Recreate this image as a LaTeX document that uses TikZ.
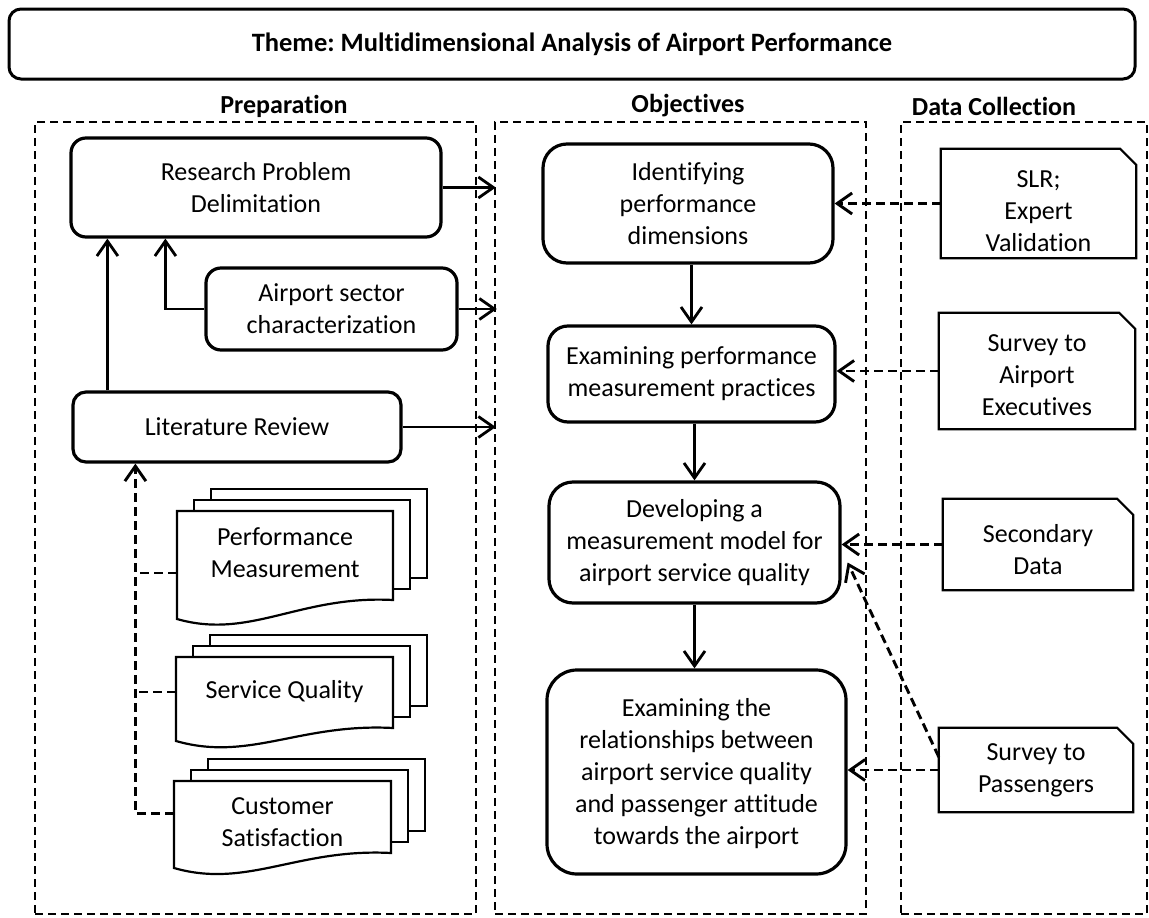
\documentclass[tikz,border=0pt]{standalone}
\usepackage{fontspec}
\setmainfont{Carlito}[Ligatures=NoCommon]
\usetikzlibrary{arrows.meta,calc}
\frenchspacing

% stack of three documents with a wavy front sheet
% #1 name, #2 left, #3 top, #4 right, #5 bottom at right, #6 bottom at left, #7 text, #8 text centre
\newcommand\docstack[8]{%
  \draw[sheet] (#2+34,#3-11) -- (#2+34,#3-22) -- (#4+34,#3-22) -- (#4+34,#5-22) -- (#4+17,#5-22);
  \draw[sheet] (#2+17,#3) -- (#2+17,#3-11) -- (#4+17,#3-11) -- (#4+17,#5-11) -- (#4,#5-11);
  \draw[sheet] (#2,#3) -- (#4,#3) -- (#4,#5)
     .. controls (#4-93,#5-5) and (#2+73,#6+21) .. (#2,#6) -- cycle;
  \pgfmathsetmacro\dsw{#4-#2}%
  \pgfmathsetmacro\dsh{#6-#3}%
  \node[minimum width=\dsw pt,minimum height=\dsh pt,inner sep=0pt] (#1) at ({(#2+#4)/2},{(#3+#6)/2}) {};
  \node[align=center,inner sep=0pt] (#1-text) at ({(#2+#4)/2},#8) {#7};
}

% source box with a cut top-right corner
\newcommand\foldbox[1]{%
  \draw[srcline] (#1.north west) -- ([xshift=-16pt]#1.north east) -- ([yshift=-16pt]#1.north east)
     -- (#1.south east) -- (#1.south west) -- cycle;
}
% invisible strut that lowers a block of text inside a fixed-height box
\newcommand\lowerby[1]{\rule{0pt}{#1pt}}

\begin{document}
\begin{tikzpicture}[x=1pt,y=-1pt,
  >={Straight Barb[length=15pt,width=21pt]},
  every node/.style={font=\fontsize{26}{32}\selectfont},
  heading/.style={font=\fontsize{26}{32}\selectfont\bfseries},
  theme/.style={draw,line width=3pt,rounded corners=12pt,minimum width=1126pt,minimum height=70pt,
    font=\fontsize{26.5}{32}\selectfont\bfseries},
  frame/.style={draw,line width=2.4pt,dash pattern=on 8pt off 5pt,inner sep=0pt},
  task/.style={draw,line width=3.2pt,align=center,inner sep=0pt},
  src/.style={align=center,inner sep=0pt},
  srcline/.style={line width=2.2pt,line join=miter},
  sheet/.style={line width=2.2pt},
  flow/.style={line width=2.8pt,->},
  feed/.style={line width=2.9pt,dash pattern=on 9pt off 5pt,->},
  feedline/.style={line width=2.9pt,dash pattern=on 9pt off 5pt},
]
\useasboundingbox (0,0) rectangle (1149,918);

% title
\node[theme] (theme) at (572,44) {Theme: Multidimensional Analysis of Airport Performance};

% column headings
\node[heading] (prephead) at (284,106) {Preparation};
\node[heading] (objhead) at (688,106) {Objectives};
\node[heading] (datahead) at (994,106) {Data Collection};

% column frames
\node[frame,minimum width=441pt,minimum height=792pt] (prepframe) at (255.5,518) {};
\node[frame,minimum width=371pt,minimum height=792pt] (objframe) at (680.5,518) {};
\node[frame,minimum width=246pt,minimum height=792pt] (dataframe) at (1024,518) {};

% preparation
\node[task,rounded corners=15pt,minimum width=370pt,minimum height=99pt] (rp) at (256,187.5)
  {Research Problem\\Delimitation};
\node[task,rounded corners=15pt,minimum width=251pt,minimum height=82pt] (as) at (331.5,309)
  {Airport sector\\characterization};
\node[task,rounded corners=13pt,minimum width=328pt,minimum height=70pt] (lit) at (237,427)
  {Literature Review};

\docstack{pm}{177}{511}{393}{600}{619}{Performance\\Measurement}{553}
\docstack{sq}{176}{657}{393}{728}{741}{Service Quality}{692}
\docstack{cs}{174}{781}{391}{853}{868}{Customer\\Satisfaction}{822}

% objectives
\node[task,rounded corners=24pt,minimum width=290pt,minimum height=119pt] (o1) at (688,203.5)
  {Identifying\\performance\\dimensions};
\node[task,rounded corners=20pt,minimum width=287pt,minimum height=96pt] (o2) at (691.5,374)
  {Examining performance\\measurement practices};
\node[task,rounded corners=24pt,minimum width=291pt,minimum height=121pt] (o3) at (694.5,542.5)
  {Developing a\\measurement model for\\airport service quality};
\node[task,rounded corners=30pt,minimum width=299pt,minimum height=204pt] (o4) at (696.5,772)
  {\lowerby{22}Examining the\\relationships between\\airport service quality\\and passenger attitude\\towards the airport};

% data sources
\node[src,minimum width=195pt,minimum height=109pt] (slr) at (1038.5,203.5) {\lowerby{33}SLR;\\Expert\\Validation};
\node[src,minimum width=196pt,minimum height=116pt] (se) at (1037,371) {\lowerby{25}Survey to\\Airport\\Executives};
\node[src,minimum width=190pt,minimum height=91pt] (sd) at (1038,544.5) {\lowerby{28}Secondary\\Data};
\node[src,minimum width=194pt,minimum height=84pt] (sp) at (1036,770) {Survey to\\Passengers};
\foldbox{slr}
\foldbox{se}
\foldbox{sd}
\foldbox{sp}

% preparation links
\draw[flow] (rp.east) -- ($(rp.east -| objframe.west)+(2,0)$);
\draw[flow] (as.east) -- ($(as.east -| objframe.west)+(3,0)$);
\draw[flow] (lit.east) -- ($(lit.east -| objframe.west)+(2,0)$);
\draw[flow] (as.west) -| ($(rp.south west)+(96,0)$);
\draw[flow] ($(lit.north west)+(36,0)$) -- ($(rp.south west)+(38,0)$);

% literature sources
\coordinate (spine) at ($(lit.south west)+(64,0)$);
\draw[feed] ($(cs.west)+(0,-11)$) -| (spine);
\draw[feedline] ($(pm.west)+(0,8)$) coordinate (pmjoin) -- (pmjoin -| spine);
\draw[feedline] ($(sq.west)+(0,-7)$) coordinate (sqjoin) -- (sqjoin -| spine);

% objective sequence
\draw[flow] (o1.south -| o2.north) -- (o2.north);
\draw[flow] (o2.south -| o3.north) -- (o3.north);
\draw[flow] (o3.south) -- (o3.south |- o4.north);

% data feeds
\draw[feed] (slr.west) -- (slr.west -| o1.east);
\draw[feed] (se.west) -- (se.west -| o2.east);
\draw[feed] (sd.west) -- (sd.west -| o3.east);
\draw[feed] (sp.west) -- (sp.west -| o4.east);
\draw[feed] ($(sp.west)+(0,-13)$) -- ($(o3.east)+(6,20)$);
\end{tikzpicture}
\end{document}
